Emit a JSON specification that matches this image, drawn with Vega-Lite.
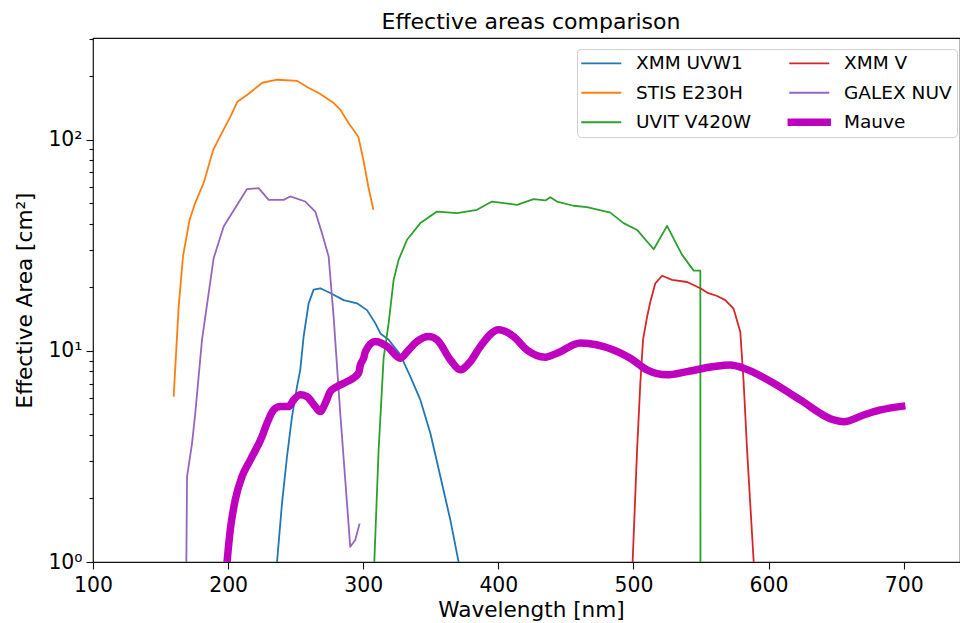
{
  "$schema": "https://vega.github.io/schema/vega-lite/v6.json",
  "autosize": {"type": "none"},
  "width": 867,
  "height": 524,
  "padding": {"left": 93, "top": 38, "right": 0, "bottom": 61},
  "background": "white",
  "title": {"text": "Effective areas comparison", "font": "DejaVu Sans", "fontSize": 22, "fontWeight": "normal", "color": "black", "anchor": "middle", "frame": "group", "dx": 4.5, "dy": 22, "baseline": "alphabetic", "offset": 9},
  "config": {
    "view": {"stroke": "#111", "strokeWidth": 1.2},
    "font": "DejaVu Sans",
    "axis": {"domain": false, "grid": false, "tickColor": "#111", "tickWidth": 1.1, "labelColor": "black", "titleColor": "black", "labelFont": "DejaVu Sans", "titleFont": "DejaVu Sans", "titleFontWeight": "normal"}
  },
  "data": {"values": [
    {"s":"XMM UVW1","x":236.2,"y":1.0},{"s":"XMM UVW1","x":239.9,"y":1.90},{"s":"XMM UVW1","x":243.6,"y":3.16},{"s":"XMM UVW1","x":247.3,"y":4.88},{"s":"XMM UVW1","x":251.0,"y":6.77},{"s":"XMM UVW1","x":253.4,"y":8.13},{"s":"XMM UVW1","x":255.9,"y":11.7},{"s":"XMM UVW1","x":259.6,"y":16.8},{"s":"XMM UVW1","x":263.3,"y":19.5},{"s":"XMM UVW1","x":268.2,"y":19.8},{"s":"XMM UVW1","x":275.6,"y":18.8},{"s":"XMM UVW1","x":285.5,"y":17.4},{"s":"XMM UVW1","x":295.4,"y":16.8},{"s":"XMM UVW1","x":302.8,"y":15.6},{"s":"XMM UVW1","x":309.0,"y":13.5},{"s":"XMM UVW1","x":312.7,"y":12.1},{"s":"XMM UVW1","x":318.8,"y":11.3},{"s":"XMM UVW1","x":327.5,"y":9.57},{"s":"XMM UVW1","x":334.9,"y":7.56},{"s":"XMM UVW1","x":342.3,"y":5.86},{"s":"XMM UVW1","x":349.7,"y":4.07},{"s":"XMM UVW1","x":357.1,"y":2.54},{"s":"XMM UVW1","x":364.5,"y":1.58},{"s":"XMM UVW1","x":370.6,"y":1.0},
    {"s":"STIS E230H","x":159.7,"y":6.07},{"s":"STIS E230H","x":163.4,"y":16.2},{"s":"STIS E230H","x":166.6,"y":28.0},{"s":"STIS E230H","x":171.5,"y":41.8},{"s":"STIS E230H","x":175.7,"y":50.3},{"s":"STIS E230H","x":181.9,"y":62.5},{"s":"STIS E230H","x":189.0,"y":89.7},{"s":"STIS E230H","x":192.7,"y":100},{"s":"STIS E230H","x":201.6,"y":128.5},{"s":"STIS E230H","x":206.8,"y":151.4},{"s":"STIS E230H","x":214.2,"y":163.4},{"s":"STIS E230H","x":225.3,"y":186.3},{"s":"STIS E230H","x":236.4,"y":192.5},{"s":"STIS E230H","x":251.2,"y":190},{"s":"STIS E230H","x":259.4,"y":176.3},{"s":"STIS E230H","x":266.8,"y":167},{"s":"STIS E230H","x":277.9,"y":149.8},{"s":"STIS E230H","x":283.1,"y":138.7},{"s":"STIS E230H","x":289.0,"y":120.4},{"s":"STIS E230H","x":296.4,"y":103.3},{"s":"STIS E230H","x":300.1,"y":80.4},{"s":"STIS E230H","x":303.8,"y":59.9},{"s":"STIS E230H","x":307.5,"y":46.6},
    {"s":"UVIT V420W","x":308.2,"y":1.0},{"s":"UVIT V420W","x":311.4,"y":3.40},{"s":"UVIT V420W","x":315.1,"y":9.27},{"s":"UVIT V420W","x":318.8,"y":13.5},{"s":"UVIT V420W","x":322.5,"y":21.7},{"s":"UVIT V420W","x":326.2,"y":27.0},{"s":"UVIT V420W","x":332.4,"y":33.6},{"s":"UVIT V420W","x":342.3,"y":40.3},{"s":"UVIT V420W","x":354.6,"y":45.7},{"s":"UVIT V420W","x":369.4,"y":44.9},{"s":"UVIT V420W","x":384.2,"y":46.6},{"s":"UVIT V420W","x":395.3,"y":51.0},{"s":"UVIT V420W","x":413.8,"y":49.2},{"s":"UVIT V420W","x":426.1,"y":52.4},{"s":"UVIT V420W","x":434.8,"y":51.6},{"s":"UVIT V420W","x":438.5,"y":53.5},{"s":"UVIT V420W","x":443.4,"y":51.0},{"s":"UVIT V420W","x":455.7,"y":48.7},{"s":"UVIT V420W","x":465.6,"y":48.0},{"s":"UVIT V420W","x":482.9,"y":45.2},{"s":"UVIT V420W","x":492.7,"y":40.3},{"s":"UVIT V420W","x":502.7,"y":37.4},{"s":"UVIT V420W","x":515.0,"y":30.3},{"s":"UVIT V420W","x":524.9,"y":39.1},{"s":"UVIT V420W","x":536.0,"y":28.5},{"s":"UVIT V420W","x":544.6,"y":24.0},{"s":"UVIT V420W","x":549.5,"y":24.0},{"s":"UVIT V420W","x":549.6,"y":1.0},
    {"s":"XMM V","x":499.4,"y":1.0},{"s":"XMM V","x":502.7,"y":3.40},{"s":"XMM V","x":505.1,"y":7.03},{"s":"XMM V","x":507.1,"y":11.3},{"s":"XMM V","x":510.1,"y":14.5},{"s":"XMM V","x":512.5,"y":17.1},{"s":"XMM V","x":516.2,"y":20.9},{"s":"XMM V","x":521.2,"y":22.7},{"s":"XMM V","x":528.6,"y":21.7},{"s":"XMM V","x":539.7,"y":21.2},{"s":"XMM V","x":549.5,"y":19.8},{"s":"XMM V","x":554.5,"y":18.9},{"s":"XMM V","x":561.9,"y":18.2},{"s":"XMM V","x":568.0,"y":17.4},{"s":"XMM V","x":574.2,"y":15.8},{"s":"XMM V","x":579.1,"y":12.3},{"s":"XMM V","x":581.6,"y":7.03},{"s":"XMM V","x":584.1,"y":3.40},{"s":"XMM V","x":589.0,"y":1.0},
    {"s":"GALEX NUV","x":169.1,"y":1.0},{"s":"GALEX NUV","x":169.6,"y":2.54},{"s":"GALEX NUV","x":173.3,"y":3.65},{"s":"GALEX NUV","x":175.7,"y":5.07},{"s":"GALEX NUV","x":180.7,"y":11.3},{"s":"GALEX NUV","x":189.3,"y":27.5},{"s":"GALEX NUV","x":196.7,"y":38.8},{"s":"GALEX NUV","x":214.0,"y":58.4},{"s":"GALEX NUV","x":222.6,"y":59.0},{"s":"GALEX NUV","x":230.0,"y":51.9},{"s":"GALEX NUV","x":241.1,"y":51.9},{"s":"GALEX NUV","x":246.0,"y":53.9},{"s":"GALEX NUV","x":257.1,"y":51.0},{"s":"GALEX NUV","x":264.5,"y":45.7},{"s":"GALEX NUV","x":269.5,"y":36.1},{"s":"GALEX NUV","x":274.4,"y":28.0},{"s":"GALEX NUV","x":278.1,"y":14.5},{"s":"GALEX NUV","x":283.0,"y":5.07},{"s":"GALEX NUV","x":286.7,"y":2.45},{"s":"GALEX NUV","x":290.4,"y":1.18},{"s":"GALEX NUV","x":294.1,"y":1.27},{"s":"GALEX NUV","x":297.3,"y":1.52},
    {"s":"Mauve","x":199.2,"y":1.0},{"s":"Mauve","x":201.6,"y":1.42},{"s":"Mauve","x":205.3,"y":1.97},{"s":"Mauve","x":210.3,"y":2.54},{"s":"Mauve","x":216.4,"y":3.04},{"s":"Mauve","x":225.1,"y":3.93},{"s":"Mauve","x":228.8,"y":4.54},{"s":"Mauve","x":233.7,"y":5.25},{"s":"Mauve","x":238.6,"y":5.45},{"s":"Mauve","x":244.8,"y":5.45},{"s":"Mauve","x":248.5,"y":5.86},{"s":"Mauve","x":253.4,"y":6.19},{"s":"Mauve","x":258.4,"y":6.07},{"s":"Mauve","x":264.5,"y":5.45},{"s":"Mauve","x":268.2,"y":5.16},{"s":"Mauve","x":271.9,"y":5.65},{"s":"Mauve","x":275.6,"y":6.41},{"s":"Mauve","x":280.6,"y":6.77},{"s":"Mauve","x":288.0,"y":7.15},{"s":"Mauve","x":296.6,"y":7.84},{"s":"Mauve","x":297.9,"y":8.58},{"s":"Mauve","x":300.3,"y":9.23},{"s":"Mauve","x":301.6,"y":9.92},{"s":"Mauve","x":309.0,"y":11.07},{"s":"Mauve","x":317.6,"y":10.5},{"s":"Mauve","x":327.5,"y":9.23},{"s":"Mauve","x":333.6,"y":10.1},{"s":"Mauve","x":339.8,"y":11.07},{"s":"Mauve","x":348.4,"y":11.7},{"s":"Mauve","x":354.6,"y":11.3},{"s":"Mauve","x":364.5,"y":9.07},{"s":"Mauve","x":371.9,"y":8.13},{"s":"Mauve","x":379.3,"y":8.9},{"s":"Mauve","x":386.7,"y":10.5},{"s":"Mauve","x":400.2,"y":12.6},{"s":"Mauve","x":411.3,"y":11.7},{"s":"Mauve","x":421.2,"y":10.1},{"s":"Mauve","x":434.8,"y":9.34},{"s":"Mauve","x":443.4,"y":9.75},{"s":"Mauve","x":460.7,"y":10.9},{"s":"Mauve","x":485.3,"y":10.1},{"s":"Mauve","x":497.7,"y":9.23},{"s":"Mauve","x":510.0,"y":8.13},{"s":"Mauve","x":524.9,"y":7.70},{"s":"Mauve","x":539.7,"y":7.98},{"s":"Mauve","x":559.4,"y":8.43},{"s":"Mauve","x":571.7,"y":8.58},{"s":"Mauve","x":581.6,"y":8.28},{"s":"Mauve","x":603.8,"y":7.03},{"s":"Mauve","x":623.5,"y":5.86},{"s":"Mauve","x":648.2,"y":4.71},{"s":"Mauve","x":655.6,"y":4.62},{"s":"Mauve","x":670.4,"y":4.97},{"s":"Mauve","x":682.8,"y":5.25},{"s":"Mauve","x":701.3,"y":5.49}
  ]},
  "encoding": {
    "x": {"field": "x", "type": "quantitative", "scale": {"domain": [100, 741.7], "nice": false, "zero": false},
      "axis": {"values": [100, 200, 300, 400, 500, 600, 700], "title": "Wavelength [nm]", "titleFontSize": 21.6, "labelFontSize": 20.4, "tickSize": 7, "labelPadding": 6, "titlePadding": 4, "titleX": 438, "labelFlush": false}},
    "y": {"field": "y", "type": "quantitative", "scale": {"type": "log", "domain": [1, 303.5], "nice": false},
      "axis": {"values": [1, 2, 3, 4, 5, 6, 7, 8, 9, 10, 20, 30, 40, 50, 60, 70, 80, 90, 100, 200, 300],
        "labelExpr": "datum.value == 1 ? '10⁰' : datum.value == 10 ? '10¹' : datum.value == 100 ? '10²' : ''",
        "tickSize": {"condition": {"test": "datum.value == 1 || datum.value == 10 || datum.value == 100", "value": 7}, "value": 4},
        "title": "Effective Area [cm²]", "titleFontSize": 21.6, "labelFontSize": 20.4, "labelPadding": 4, "titlePadding": 11, "labelFlush": false}},
    "color": {"field": "s", "type": "nominal",
      "scale": {"domain": ["XMM UVW1", "STIS E230H", "UVIT V420W", "XMM V", "GALEX NUV", "Mauve"], "range": ["#1f77b4", "#ff7f0e", "#2ca02c", "#d62728", "#9467bd", "#bf00bf"]},
      "legend": {"title": null, "orient": "none", "legendX": 484, "legendY": 11, "columns": 2, "columnPadding": 32, "rowPadding": 10.5, "symbolType": "M-1.25,0H3.75", "symbolSize": 256, "symbolStrokeWidth": 1.8, "labelFontSize": 18.5, "labelFont": "DejaVu Sans", "labelColor": "black", "labelOffset": 35.5, "labelLimit": 300, "padding": 5, "strokeColor": "#d0d0d0", "fillColor": "white", "cornerRadius": 4,
        "encode": {"symbols": {"update": {
          "shape": {"signal": "datum.value === 'Mauve' ? 'M-1.35,-0.36H3.85V0.36H-1.35Z' : 'M-1.25,0H3.75'"},
          "fill": {"signal": "datum.value === 'Mauve' ? '#bf00bf' : 'transparent'"},
          "fillOpacity": {"value": 1}}}}}}
  },
  "layer": [
    {"transform": [{"filter": "datum.s != 'Mauve'"}], "mark": {"type": "line", "clip": true, "strokeWidth": 1.8, "strokeJoin": "round"}},
    {"transform": [{"filter": "datum.s == 'Mauve'"}], "mark": {"type": "line", "clip": true, "strokeWidth": 7.5, "strokeJoin": "round", "interpolate": "monotone"}}
  ]
}
